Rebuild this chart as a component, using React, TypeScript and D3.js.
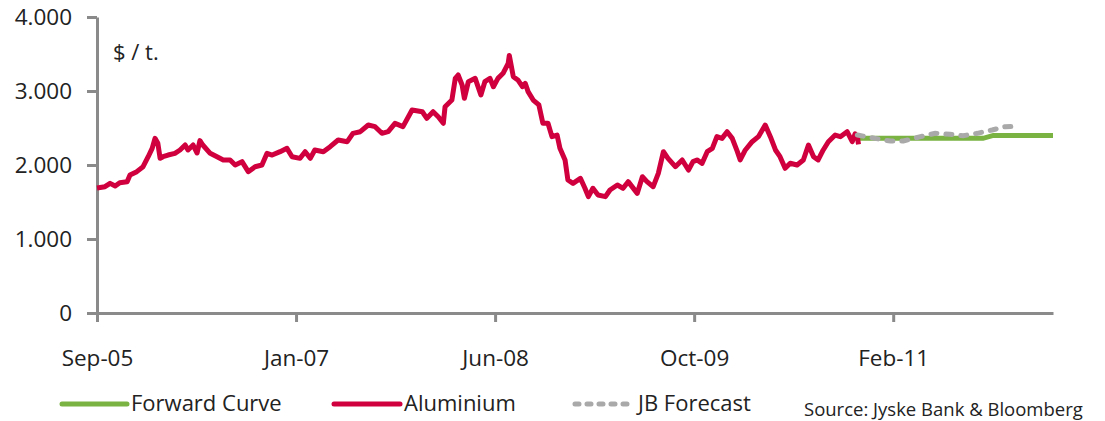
import React, { useEffect, useRef } from 'react'
import * as d3 from 'd3'

// x is the trading-day index counted from the first observation in Sep-05
const aluDays = [
  0, 14, 23, 32, 40, 53, 58, 70, 81, 90, 97, 102, 107, 111, 116, 125, 137, 146, 155, 160,
  169, 176, 181, 186, 199, 211, 222, 234, 243, 255, 266, 278, 290, 299, 308, 322, 334, 343,
  357, 366, 375, 383, 398, 410, 424, 440, 450, 463, 477, 489, 501, 512, 524, 538, 554, 572,
  580, 591, 600, 609, 612, 624, 630, 635, 642, 646, 653, 665, 675, 682, 691, 697, 705, 714,
  723, 725, 732, 740, 748, 753, 758, 767, 777, 784, 793, 800, 809, 814, 823, 828, 837, 850,
  858, 864, 872, 881, 894, 902, 915, 925, 934, 950, 959, 967, 978, 987, 996, 1004, 1017,
  1029, 1040, 1048, 1055, 1064, 1073, 1082, 1090, 1099, 1108, 1117, 1126, 1131, 1140, 1152,
  1163, 1175, 1184, 1193, 1201, 1210, 1219, 1231, 1242, 1251, 1260, 1268, 1277, 1286, 1298,
  1307, 1319, 1328, 1333, 1337, 1339
]
const aluPrices = [
  1690, 1707, 1752, 1716, 1761, 1775, 1865, 1910, 1977, 2112, 2225, 2360, 2293, 2090, 2112, 2135, 2158, 2203, 2270, 2203,
  2270, 2162, 2330, 2270, 2158, 2112, 2068, 2068, 2000, 2045, 1910, 1977, 2000, 2158, 2135, 2180, 2225, 2112,
  2090, 2180, 2090, 2203, 2180, 2248, 2338, 2315, 2428, 2450, 2540, 2518, 2428, 2450, 2563, 2518, 2743, 2720,
  2631, 2720, 2653, 2563, 2788, 2878, 3171, 3216, 3081, 2901, 3126, 3171, 2946, 3126, 3170, 3058, 3171, 3239,
  3374, 3480, 3194, 3149, 3058, 3104, 2991, 2878, 2811, 2563, 2563, 2383, 2405, 2225, 2068, 1797, 1752, 1820,
  1685, 1572, 1685, 1595, 1572, 1662, 1730, 1685, 1775, 1617, 1842, 1775, 1707, 1887, 2180, 2090, 1977,
  2068, 1932, 2045, 2068, 2023, 2180, 2225, 2383, 2360, 2450, 2360, 2180, 2068, 2203, 2315,
  2383, 2540, 2383, 2203, 2112, 1955, 2023, 2000, 2068, 2270, 2112, 2068, 2203, 2315, 2405,
  2383, 2450, 2315, 2420, 2380, 2280
]
const fwdDays = [1337, 1558, 1576, 1681]
const fwdPrices = [2360, 2360, 2400, 2400]
const jbDays = [1337, 1368, 1395, 1418, 1448, 1474, 1500, 1523, 1548, 1574, 1597, 1609]
const jbPrices = [2405, 2360, 2324, 2324, 2383, 2428, 2414, 2396, 2428, 2473, 2518, 2520]

const tickDays = [0, 350, 700, 1050, 1400]
const tickLabels = ['Sep-05', 'Jan-07', 'Jun-08', 'Oct-09', 'Feb-11']
const yTicks = [0, 1000, 2000, 3000, 4000]

const RED = '#cf003d'
const GREEN = '#7ab342'
const GREY = '#a9a9a9'
const AXIS = '#8a8a8a'
const FONT = '"Open Sans", sans-serif'

const App = () => {
  const ref = useRef<SVGSVGElement>(null)

  useEffect(() => {
    const svg = d3.select(ref.current)
    svg.selectAll('*').remove()

    const x = d3.scaleLinear().domain([0, 1681]).range([97, 1053])
    const y = d3.scaleLinear().domain([0, 4000]).range([313, 17])
    const fmt = d3.formatLocale({ decimal: ',', thousands: '.', grouping: [3], currency: ['', ''] }).format(',d')

    // axes
    const yAxis = svg.append('g')
      .attr('transform', 'translate(97,0)')
      .call(d3.axisLeft(y).tickValues(yTicks).tickSize(10).tickSizeOuter(0).tickPadding(15).tickFormat(d => fmt(d as number)))
    const xAxis = svg.append('g')
      .attr('transform', 'translate(0,313)')
      .call(d3.axisBottom(x).tickValues(tickDays).tickSize(9).tickSizeOuter(0).tickPadding(28).tickFormat((d, i) => tickLabels[i]))

    for (const g of [yAxis, xAxis]) {
      g.select('.domain').attr('stroke', AXIS).attr('stroke-width', 3)
      g.selectAll('.tick line').attr('stroke', AXIS).attr('stroke-width', 3)
      g.selectAll('.tick text').attr('fill', '#222').style('font-family', FONT).style('font-size', '22.5px')
    }

    svg.append('text')
      .attr('x', 113).attr('y', 60)
      .attr('fill', '#222')
      .style('font-family', FONT).style('font-size', '22px')
      .text('$ / t.')

    // series
    const line = d3.line<[number, number]>().x(d => x(d[0])).y(d => y(d[1]))
    const zip = (a: number[], b: number[]) => a.map((v, i) => [v, b[i]] as [number, number])

    svg.append('path')
      .attr('d', line(zip(fwdDays, fwdPrices)))
      .attr('fill', 'none').attr('stroke', GREEN).attr('stroke-width', 5)
    svg.append('path')
      .attr('d', line(zip(aluDays, aluPrices)))
      .attr('fill', 'none').attr('stroke', RED).attr('stroke-width', 5)
      .attr('stroke-linejoin', 'round')
    svg.append('path')
      .attr('d', line(zip(jbDays, jbPrices)))
      .attr('fill', 'none').attr('stroke', GREY).attr('stroke-width', 5)
      .attr('stroke-dasharray', '6 9').attr('stroke-linecap', 'round')

    // legend
    const legend = [
      { label: 'Forward Curve', color: GREEN, x0: 62, x1: 127, dash: null },
      { label: 'Aluminium', color: RED, x0: 334, x1: 400, dash: null },
      { label: 'JB Forecast', color: GREY, x0: 575, x1: 634, dash: '4 8' }
    ]
    legend.forEach(l => {
      svg.append('line')
        .attr('x1', l.x0).attr('x2', l.x1).attr('y1', 404).attr('y2', 404)
        .attr('stroke', l.color).attr('stroke-width', 5).attr('stroke-linecap', 'round')
        .attr('stroke-dasharray', l.dash)
      svg.append('text')
        .attr('x', l.x1 + 4).attr('y', 411)
        .attr('fill', '#222')
        .style('font-family', FONT).style('font-size', '22px')
        .text(l.label)
    })

    svg.append('text')
      .attr('x', 804).attr('y', 416)
      .attr('fill', '#222')
      .style('font-family', FONT).style('font-size', '18.5px')
      .text('Source: Jyske Bank & Bloomberg')
  }, [])

  return (
    <svg ref={ref} width={1105} height={421} style={{ position: 'absolute', left: 0, top: 0, background: '#fff' }} />
  )
}

export default App
